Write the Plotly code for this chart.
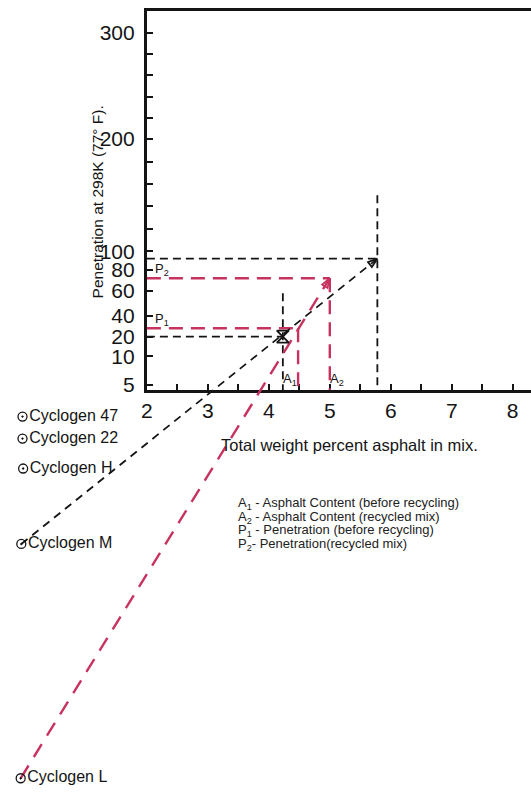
import numpy as np
import plotly.graph_objects as go

# Penetration scale (label value -> relative position along the axis, 0 = bottom, 1 = top)
PEN_TICKS = [5, 10, 20, 40, 60, 80, 100, 200, 300]
PEN_SCALE = [0.013, 0.089, 0.141, 0.196, 0.262, 0.317, 0.366, 0.662, 0.942]
PEN_MINOR = [120, 140, 160, 180, 220, 240, 260, 280]

X_TICKS = [2, 3, 4, 5, 6, 7, 8]

# Cyclogen pivot points (x in weight %, y in relative scale units)
CYCLOGEN_NAMES = ["Cyclogen 47", "Cyclogen 22", "Cyclogen H", "Cyclogen M", "Cyclogen L"]
CYCLOGEN_X = [-0.04, -0.04, -0.03, -0.06, -0.07]
CYCLOGEN_U = [-0.070, -0.128, -0.207, -0.406, -1.024]

# Black construction (before recycling)
A_BLACK = 4.23
P_BLACK = 20
P_BLACK_VTOP = 58
A_BLACK_END = 5.78
P_BLACK_END = 92
P_BLACK_END_VTOP = 150

# Red construction (recycled mix)
A1 = 4.48
P1 = 28
A2 = 5.0
P2 = 72

X_MIN, X_MAX = 2.0, 8.30
U_MIN, U_MAX = 0.0, 1.0

# ---------------- layout geometry ----------------
W, H = 531, 796
BOX_L_PX = 142.5    # y axis line
BOX_B_PX = 393      # x axis line
BOX_T_PX = 11       # top border

FONT = "Liberation Sans, Arial, sans-serif"
BLACK = "#141414"
RED = "#c8325f"


def u(p):
    return float(np.interp(p, PEN_TICKS, PEN_SCALE))


dom_x = [BOX_L_PX / W, 1.0]
dom_y = [(H - BOX_B_PX) / H, (H - BOX_T_PX) / H]

# overlay axes covering the whole page with the same scale
sx = (X_MAX - X_MIN) / (dom_x[1] - dom_x[0])
sy = (U_MAX - U_MIN) / (dom_y[1] - dom_y[0])
x2_range = [X_MIN - dom_x[0] * sx, X_MAX + (1 - dom_x[1]) * sx]
y2_range = [U_MIN - dom_y[0] * sy, U_MAX + (1 - dom_y[1]) * sy]

fig = go.Figure()

# invisible trace to create the main subplot
fig.add_trace(go.Scatter(x=[X_MIN], y=[U_MIN], mode="markers",
                         marker=dict(size=1, opacity=0), showlegend=False,
                         hoverinfo="skip", xaxis="x", yaxis="y"))


def seg(xs, ys, color, dash, width):
    fig.add_trace(go.Scatter(x=xs, y=ys, mode="lines",
                             line=dict(color=color, dash=dash, width=width),
                             showlegend=False, hoverinfo="skip",
                             xaxis="x2", yaxis="y2"))


BD = "8px,5px"
RD = "14px,8px"

# black construction
seg([X_MIN, A_BLACK_END], [u(P_BLACK_END)] * 2, BLACK, BD, 1.8)
seg([A_BLACK_END] * 2, [u(P_BLACK_END_VTOP), U_MIN], BLACK, BD, 1.8)
seg([X_MIN, A_BLACK], [u(P_BLACK)] * 2, BLACK, BD, 1.8)
seg([A_BLACK] * 2, [u(P_BLACK_VTOP), U_MIN], BLACK, BD, 1.8)

# red construction
seg([X_MIN, A1], [u(P1)] * 2, RED, RD, 2.4)
seg([A1] * 2, [u(P1), U_MIN], RED, RD, 2.4)
seg([X_MIN, A2], [u(P2)] * 2, RED, RD, 2.4)
seg([A2] * 2, [u(P2), U_MIN], RED, RD, 2.4)


# diagonals with arrowheads
def diag(x0, y0, x1, y1, color, dash, width):
    fig.add_trace(go.Scatter(
        x=[x0, x1], y=[y0, y1], mode="lines+markers",
        line=dict(color=color, dash=dash, width=width),
        marker=dict(symbol="arrow-open", size=[1, 10], opacity=[0, 1],
                    angleref="previous", color=color,
                    line=dict(color=color, width=1.8)),
        showlegend=False, hoverinfo="skip", xaxis="x2", yaxis="y2"))


m = CYCLOGEN_NAMES.index("Cyclogen M")
l = CYCLOGEN_NAMES.index("Cyclogen L")
diag(CYCLOGEN_X[m], CYCLOGEN_U[m], A_BLACK_END, u(P_BLACK_END), BLACK, "8px,6px", 1.8)
diag(CYCLOGEN_X[l], CYCLOGEN_U[l], A2, u(P2), RED, "15px,10px", 2.4)

# intersection mark
fig.add_trace(go.Scatter(x=[A_BLACK], y=[u(P_BLACK)], mode="markers",
                         marker=dict(symbol="hourglass-open", size=12, color=BLACK,
                                     line=dict(color=BLACK, width=1.8)),
                         showlegend=False, hoverinfo="skip", xaxis="x2", yaxis="y2"))

# Cyclogen points
fig.add_trace(go.Scatter(x=CYCLOGEN_X, y=CYCLOGEN_U, mode="markers+text",
                         text=CYCLOGEN_NAMES, textposition="middle right",
                         textfont=dict(family=FONT, size=16, color=BLACK),
                         marker=dict(symbol="circle-open-dot", size=9, color=BLACK,
                                     line=dict(color=BLACK, width=1.3)),
                         showlegend=False, hoverinfo="skip", xaxis="x2", yaxis="y2"))

# labels P1, P2, A1, A2
lab_font = dict(family=FONT, size=13, color=BLACK)
annotations = [
    dict(x=X_MIN, y=u(P2), xref="x2", yref="y2", text="P<sub>2</sub>", showarrow=False,
         xanchor="left", yanchor="bottom", xshift=6, yshift=-2, font=lab_font),
    dict(x=X_MIN, y=u(P1), xref="x2", yref="y2", text="P<sub>1</sub>", showarrow=False,
         xanchor="left", yanchor="bottom", xshift=6, yshift=-2, font=lab_font),
    dict(x=A_BLACK, y=U_MIN, xref="x2", yref="y2", text="A<sub>1</sub>", showarrow=False,
         xanchor="left", yanchor="bottom", xshift=-2, yshift=0, font=lab_font),
    dict(x=A2, y=U_MIN, xref="x2", yref="y2", text="A<sub>2</sub>", showarrow=False,
         xanchor="left", yanchor="bottom", xshift=-2, yshift=0, font=lab_font),
    # axis titles
    dict(x=347 / W, y=1 - 448 / H, xref="paper", yref="paper",
         xanchor="center", yanchor="middle",
         text="Total weight percent asphalt in mix.", showarrow=False,
         font=dict(family=FONT, size=16.5, color=BLACK)),
    dict(x=93 / W, y=1 - 203 / H, xref="paper", yref="paper",
         xanchor="center", yanchor="middle",
         text="Penetration at 298K (77° F).", showarrow=False, textangle=-90,
         font=dict(family=FONT, size=15.5, color=BLACK)),
]

legend_lines = [
    "A<sub>1</sub> - Asphalt Content (before recycling)",
    "A<sub>2</sub> - Asphalt Content (recycled mix)",
    "P<sub>1</sub> - Penetration (before recycling)",
    "P<sub>2</sub>- Penetration(recycled mix)",
]
for i, t in enumerate(legend_lines):
    annotations.append(dict(x=233 / W, y=1 - (507 + 14 * i) / H, xref="paper", yref="paper",
                            text=t, showarrow=False, xanchor="left", yanchor="middle",
                            font=dict(family=FONT, size=13, color="#222")))

fig.update_layout(
    width=W, height=H, autosize=False,
    margin=dict(l=0, r=0, t=0, b=0, pad=0),
    paper_bgcolor="white", plot_bgcolor="rgba(0,0,0,0)",
    showlegend=False,
    font=dict(family=FONT, color=BLACK),
    xaxis=dict(domain=dom_x, range=[X_MIN, X_MAX], anchor="y",
               showline=True, linecolor=BLACK, linewidth=3, mirror=True,
               showgrid=False, zeroline=False,
               tickmode="array", tickvals=X_TICKS, ticktext=[str(v) for v in X_TICKS],
               ticks="inside", ticklen=6, tickwidth=2, tickcolor=BLACK,
               minor=dict(tickmode="linear", tick0=2.5, dtick=1, ticks="inside",
                          ticklen=6, tickwidth=2, tickcolor=BLACK),
               tickfont=dict(family=FONT, size=21, color=BLACK)),
    yaxis=dict(domain=dom_y, range=[U_MIN, U_MAX], anchor="x",
               showline=True, linecolor=BLACK, linewidth=3, mirror=False,
               showgrid=False, zeroline=False,
               tickmode="array", tickvals=[u(p) for p in PEN_TICKS],
               ticktext=[str(p) for p in PEN_TICKS],
               ticks="inside", ticklen=6, tickwidth=2, tickcolor=BLACK,
               ticklabelstandoff=5,
               minor=dict(tickmode="array", tickvals=[u(p) for p in PEN_MINOR],
                          ticks="inside", ticklen=6, tickwidth=2, tickcolor=BLACK),
               tickfont=dict(family=FONT, size=21, color=BLACK)),
    xaxis2=dict(domain=[0, 1], range=x2_range, anchor="y2", visible=False,
                showgrid=False, zeroline=False),
    yaxis2=dict(domain=[0, 1], range=y2_range, anchor="x2", visible=False,
                showgrid=False, zeroline=False),
    annotations=annotations,
)

fig.write_html("out.html")
